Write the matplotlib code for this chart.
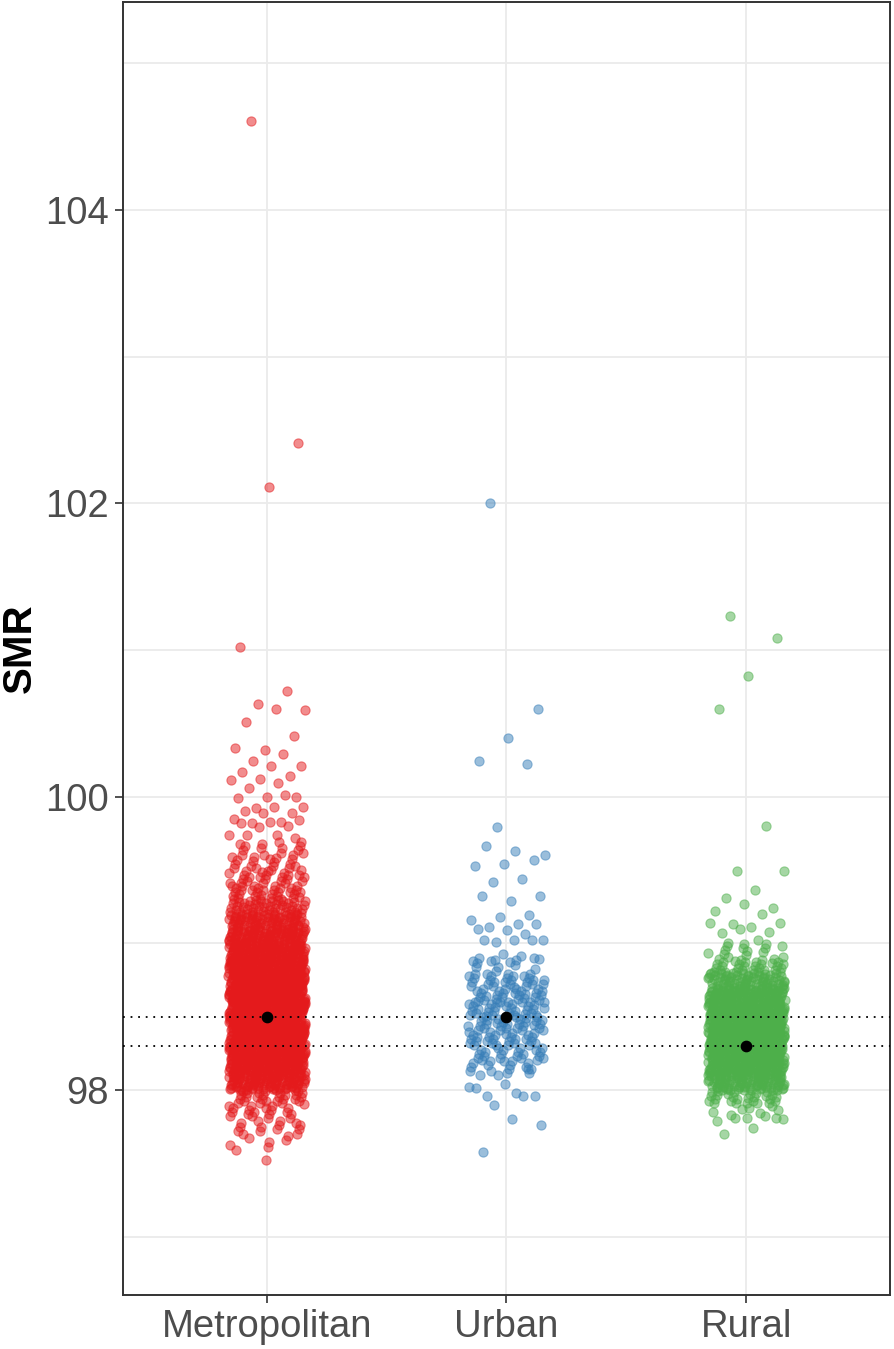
import matplotlib.pyplot as plt
import numpy as np

plt.rcParams['font.family'] = ['Liberation Sans', 'DejaVu Sans']

categories = ["Metropolitan", "Urban", "Rural"]
colors = ["#E41A1C", "#377EB8", "#4DAF4A"]

# dense cores: number of points per 0.1-wide SMR bin (lower edge of bin)
metro_bin_lo = [97.6, 97.7, 97.8, 97.9, 98.0, 98.1, 98.2, 98.3, 98.4, 98.5, 98.6,
                98.7, 98.8, 98.9, 99.0, 99.1, 99.2, 99.3, 99.4, 99.5, 99.6]
metro_bin_n = [6, 14, 18, 28, 90, 110, 125, 135, 140, 140, 140,
               135, 125, 110, 95, 75, 48, 32, 24, 18, 14]
# sparse points read one by one
metro_extra = [104.61, 102.41, 102.11, 101.02, 100.72, 100.63, 100.59, 100.60,
               100.51, 100.41, 100.32, 100.33, 100.29, 100.24, 100.21, 100.21,
               100.17, 100.14, 100.12, 100.11, 100.09, 100.06, 100.00, 100.00,
               99.99, 100.01, 99.92, 99.93, 99.93, 99.90, 99.89, 99.89, 99.85,
               99.83, 99.82, 99.84, 99.83, 99.82, 99.80, 99.79, 99.74, 99.74,
               99.74, 99.72, 97.52, 97.59]

urban_bin_lo = [98.1, 98.2, 98.3, 98.4, 98.5, 98.6, 98.7, 98.8]
urban_bin_n = [14, 22, 28, 31, 31, 29, 27, 10]
urban_extra = [102.00, 100.60, 100.40, 100.24, 100.22, 99.79, 99.60, 99.63,
               99.66, 99.57, 99.54, 99.53, 99.44, 99.42, 99.32, 99.29, 99.32,
               99.19, 99.18, 99.16, 99.13, 99.11, 99.13, 99.09, 99.10, 99.06,
               99.01, 99.02, 99.02, 99.02, 99.02, 98.93, 98.88, 98.91, 98.88,
               98.89, 98.87, 98.10, 98.14, 98.10, 98.02, 97.98, 97.96, 97.96,
               98.04, 98.01, 97.96, 97.90, 97.76, 97.80, 97.58]

rural_bin_lo = [97.9, 98.0, 98.1, 98.2, 98.3, 98.4, 98.5, 98.6, 98.7, 98.8, 98.9]
rural_bin_n = [30, 80, 110, 120, 125, 125, 120, 105, 65, 32, 14]
rural_extra = [101.23, 101.08, 100.82, 100.60, 99.80, 99.49, 99.49, 99.36,
               99.31, 99.24, 99.27, 99.22, 99.20, 99.13, 99.14, 99.11, 99.07,
               99.08, 99.10, 99.14, 99.02, 99.00, 97.81, 97.81, 97.79, 97.82,
               97.81, 97.80, 97.74, 97.70, 97.89, 97.87, 97.85, 97.84, 97.83,
               97.86, 97.88]

group_means = [98.5, 98.5, 98.3]

# R2 low-discrepancy steps, used to spread points inside a bin
A1, A2 = 0.7548776662466927, 0.5698402909980532


def spread(bin_lo, bin_n, extra):
    ys, us = [], []
    for b, (lo, n) in enumerate(zip(bin_lo, bin_n)):
        i = np.arange(1, n + 1)
        us += list((i * A1 + b * 0.37) % 1)
        ys += list(lo + ((i * A2 + b * 0.61) % 1) * 0.1)
    j = np.arange(len(extra))
    us += list((j * 0.618034 + 0.29) % 1)
    ys += list(extra)
    return np.array(us), np.array(ys)


W, H = 894, 1349
fig = plt.figure(figsize=(W / 100, H / 100), dpi=100)
ax = fig.add_axes([123 / W, 1 - 1295 / H, (890 - 123) / W, (1295 - 2) / H])

jit = 0.16
data = [(metro_bin_lo, metro_bin_n, metro_extra),
        (urban_bin_lo, urban_bin_n, urban_extra),
        (rural_bin_lo, rural_bin_n, rural_extra)]
for k, ((lo, n, ex), col) in enumerate(zip(data, colors)):
    u, y = spread(lo, n, ex)
    x = (k + 1) + jit * (2 * u - 1)
    ax.scatter(x, y, s=44, color=col, alpha=0.5, edgecolors=col,
               linewidths=0.8, zorder=3)

for m in sorted(set(group_means)):
    ax.axhline(m, color='black', ls=(0, (1, 3.2)), lw=1.3, zorder=4)
ax.scatter([1, 2, 3], group_means, s=55, color='black', zorder=5)

ax.set_xlim(0.4, 3.6)
ax.set_ylim(96.602, 105.418)
ax.set_xticks([1, 2, 3])
ax.set_xticklabels(categories)
ax.set_yticks([98, 100, 102, 104])
ax.set_yticks([97, 99, 101, 103, 105], minor=True)
ax.grid(True, which='both', color='#EBEBEB', lw=1.3, zorder=0)
ax.set_axisbelow(True)
ax.tick_params(axis='both', which='major', labelsize=27.5, labelcolor='#4D4D4D',
               length=6, width=1.2, color='#333333', pad=4)
ax.tick_params(axis='both', which='minor', length=0)
for sp in ax.spines.values():
    sp.set_color('#333333')
    sp.set_linewidth(1.4)

fig.text(20 / W, 1 - 648 / H, "SMR", rotation=90, ha='center', va='center',
         fontsize=29, fontweight='bold', color='black')

fig.savefig('out.png', dpi=100)
